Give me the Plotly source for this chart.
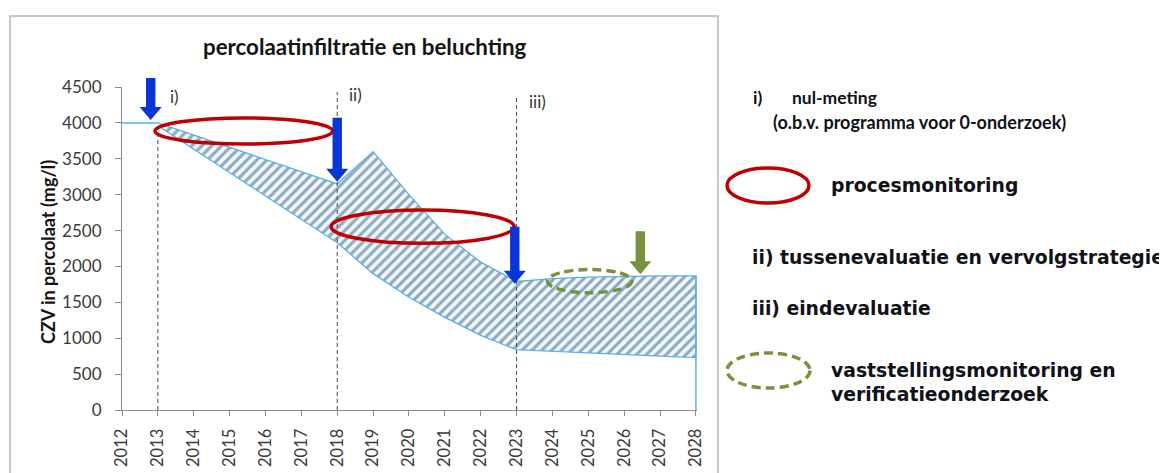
import plotly.graph_objects as go

# ---------------- data ----------------
years = [2013, 2018, 2019, 2020, 2021, 2022, 2023, 2024, 2025, 2026, 2027, 2028]
upper = [4000, 3150, 3600, 3000, 2450, 2060, 1790, 1830, 1850, 1865, 1870, 1870]
lower = [3960, 2330, 1900, 1570, 1290, 1040, 840, 815, 795, 775, 750, 730]

start_years = [2012, 2013]
start_values = [4000, 4000]

milestone_years = [2013, 2018, 2023]
milestone_labels = ["i)", "ii)", "iii)"]
milestone_tops = [4000, 4430, 4360]
milestone_label_y = [4370, 4390, 4300]

# arrows: x position (year), tip value, colour key
arrow_years = [2012.8, 2018.0, 2022.95, 2026.45]
arrow_tips = [4040, 3180, 1760, 1890]
arrow_kind = ["blue", "blue", "blue", "green"]

# ellipses (year0, year1, value0, value1)
red_ellipses = [(2012.92, 2017.87, 3706, 4068), (2017.83, 2022.93, 2322, 2786)]
green_ellipses = [(2023.86, 2026.22, 1634, 1958)]

x_ticks = list(range(2012, 2029))
y_max = 4500
y_step = 500

title = "percolaatinfiltratie en beluchting"
y_title = "CZV in percolaat (mg/l)"

# ---------------- styling / layout helpers ----------------
OFF = 8  # default page body margin of the html page
SW, SH = 1167, 473  # screen size
W, H = SW - OFF, SH - OFF
# plot area in screen pixels
SPL, SPR, SPT, SPB = 122, 697, 87, 410
PL, PR, PT, PB = SPL - OFF, SPR - OFF, SPT - OFF, SPB - OFF

def px(x):
    return (x - SPL) / (SPR - SPL)

def py(y):
    return (SPB - y) / (SPB - SPT)

BLUE = "#0a35d6"
GREEN = "#76923c"
RED = "#c00000"
LIGHT = "#5ab0e2"
HATCH = "#2b5a8a"
DASH = "#3c4a66"
CAL = "Lato"
VER = "DejaVu Sans"
TXT = "#111118"

fig = go.Figure()

# hatched band
fig.add_trace(go.Scatter(
    x=years + years[::-1],
    y=upper + lower[::-1],
    mode="lines",
    fill="toself",
    fillcolor="white",
    fillpattern=dict(shape="/", fgcolor=HATCH, bgcolor="#f2f9fd", size=7, solidity=0.45),
    line=dict(color=LIGHT, width=1.3),
    hoverinfo="skip",
))

# starting level line and closing line at the end
fig.add_trace(go.Scatter(x=start_years, y=start_values, mode="lines",
                         line=dict(color=LIGHT, width=1.5), hoverinfo="skip"))
fig.add_trace(go.Scatter(x=[years[-1], years[-1]], y=[upper[-1], 0], mode="lines",
                         line=dict(color=LIGHT, width=1.5), hoverinfo="skip"))

# dashed milestone lines
for yr, top in zip(milestone_years, milestone_tops):
    fig.add_trace(go.Scatter(x=[yr, yr], y=[0, top], mode="lines",
                             line=dict(color=DASH, width=1, dash="4px,3px"),
                             hoverinfo="skip"))

shapes = []

# outer frame
shapes.append(dict(type="rect", xref="paper", yref="paper",
                   x0=px(10), x1=px(718), y0=py(16), y1=py(500),
                   line=dict(color="#c6c6c6", width=2), layer="below"))

# ellipses in plot
for (x0, x1, y0, y1) in red_ellipses:
    shapes.append(dict(type="circle", xref="x", yref="y", x0=x0, x1=x1, y0=y0, y1=y1,
                       line=dict(color=RED, width=3.5)))
for (x0, x1, y0, y1) in green_ellipses:
    shapes.append(dict(type="circle", xref="x", yref="y", x0=x0, x1=x1, y0=y0, y1=y1,
                       line=dict(color=GREEN, width=3.5, dash="9px,5px")))

# arrows (pixel-sized, anchored at tip)
arrow_len = [42, 64, 57, 43]
for yr, tip, kind, L in zip(arrow_years, arrow_tips, arrow_kind, arrow_len):
    hw, sw, hl = 11, 4.7, 13
    path = (f"M0,0 L{-hw},{hl} L{-sw},{hl} L{-sw},{L} L{sw},{L} "
            f"L{sw},{hl} L{hw},{hl} Z")
    col = BLUE if kind == "blue" else GREEN
    shapes.append(dict(type="path", xref="x", yref="y domain",
                       xsizemode="pixel", ysizemode="pixel",
                       xanchor=yr, yanchor=tip / y_max,
                       path=path, fillcolor=col, line=dict(width=0)))

# legend ellipses
shapes.append(dict(type="circle", xref="paper", yref="paper",
                   x0=px(727), x1=px(809), y0=py(203), y1=py(168),
                   line=dict(color=RED, width=3.5)))
shapes.append(dict(type="circle", xref="paper", yref="paper",
                   x0=px(727), x1=px(810), y0=py(388), y1=py(353),
                   line=dict(color=GREEN, width=3.5, dash="9px,5px")))

annotations = []
# title
annotations.append(dict(text=f"<b>{title}</b>", xref="paper", yref="paper",
                        x=px(364.5), y=py(47), xanchor="center", yanchor="middle",
                        showarrow=False, font=dict(family=CAL, size=22.3, color="#141414")))
# y-axis title
annotations.append(dict(text=f"<b>{y_title}</b>", xref="paper", yref="paper",
                        x=px(48), y=py(252), xanchor="center", yanchor="middle",
                        textangle=-90, showarrow=False,
                        font=dict(family=CAL, size=18, color="#141414")))
# milestone labels
for yr, lab, ly in zip(milestone_years, milestone_labels, milestone_label_y):
    annotations.append(dict(text=lab, xref="x", yref="y", x=yr, y=ly,
                            xanchor="left", yanchor="middle", xshift=10,
                            showarrow=False, font=dict(family=CAL, size=17, color="#333")))

# right-hand explanation texts
def rtext(t, x, y, fam, size):
    annotations.append(dict(text=t, xref="paper", yref="paper", x=px(x), y=py(y),
                            xanchor="left", yanchor="middle", showarrow=False,
                            align="left", font=dict(family=fam, size=size, color=TXT)))

rtext("<b>i)</b>", 751, 98, CAL, 17.5)
rtext("<b>nul-meting</b>", 790, 98, CAL, 17.5)
rtext("<b>(o.b.v. programma voor 0-onderzoek)</b>", 771, 122, CAL, 18)
rtext("<b>procesmonitoring</b>", 829, 185, VER, 18.8)
rtext("<b>ii) tussenevaluatie en vervolgstrategie</b>", 750, 257, VER, 18.8)
rtext("<b>iii) eindevaluatie</b>", 750, 308, VER, 18.8)
rtext("<b>vaststellingsmonitoring en<br>verificatieonderzoek</b>", 829, 382, VER, 18.8)

fig.update_layout(
    width=W, height=H,
    margin=dict(l=PL, r=W - PR, t=PT, b=H - PB, autoexpand=False),
    paper_bgcolor="white", plot_bgcolor="white",
    showlegend=False, hovermode=False,
    shapes=shapes, annotations=annotations,
    xaxis=dict(range=[2012, 2028.03], tickmode="array", tickvals=x_ticks,
               ticktext=[str(t) for t in x_ticks], tickangle=-90, automargin=False,
               showline=True, linecolor="#8c8c8c", linewidth=1.2,
               ticks="outside", ticklen=5, tickcolor="#8c8c8c",
               showgrid=False, zeroline=False, ticklabelstandoff=6,
               tickfont=dict(family=CAL, size=16.5, color="#3a3a3a")),
    yaxis=dict(range=[0, y_max], dtick=y_step, tick0=0, tickformat="d", automargin=False,
               showline=True, linecolor="#8c8c8c", linewidth=1.2,
               ticks="outside", ticklen=6, tickcolor="#8c8c8c",
               showgrid=False, zeroline=False, ticklabelstandoff=10,
               tickfont=dict(family=CAL, size=17, color="#3a3a3a")),
)

fig.write_html("out.html")
